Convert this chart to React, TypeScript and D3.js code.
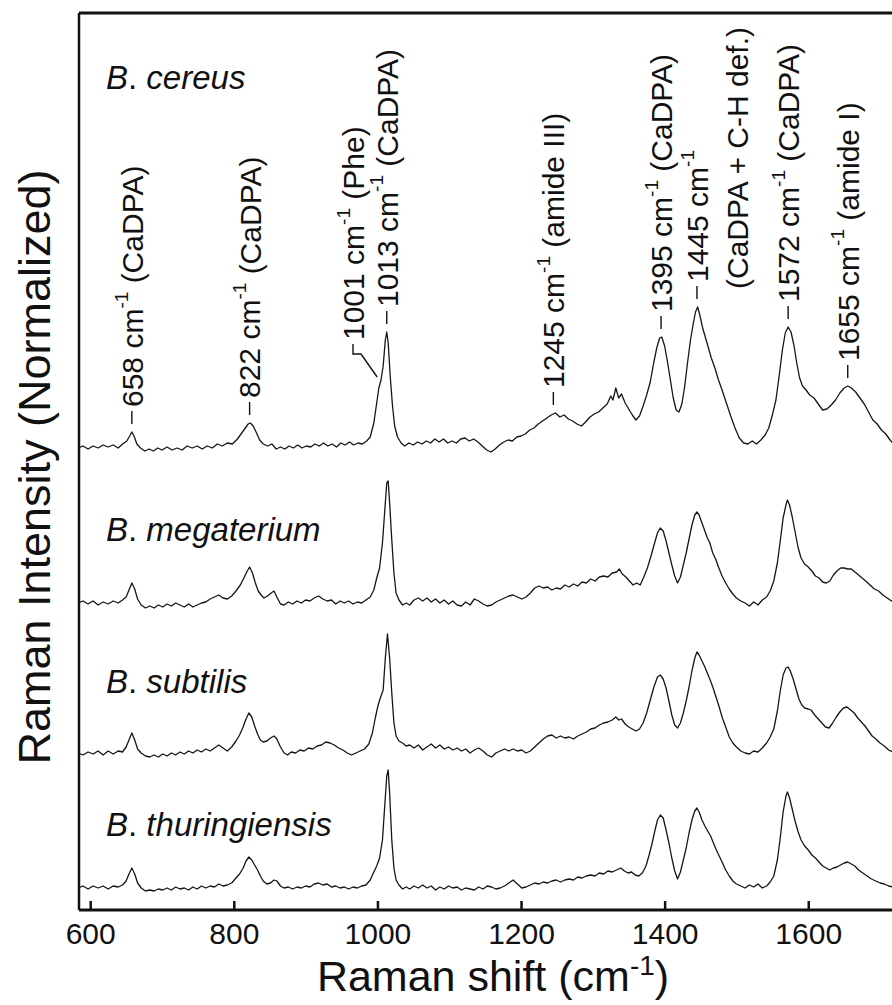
import React, { useEffect, useRef } from "react";
import * as d3 from "d3";

const W = 892;
const H = 1005;

// spectra: [Raman shift (cm-1), intensity above the trace baseline]
const cereus: [number, number][] = [
  [583, 0], [590, 0.02], [597, -0.01], [604, 0.02], [611, 0], [618, 0.03], [625, 0.01], [632, 0.03], [639, 0], [645, 0.04],
  [651, 0.07], [655, 0.12], [658, 0.16], [661, 0.12], [665, 0.04], [670, 0], [676, -0.03], [682, -0.01], [688, -0.03], [694, 0],
  [700, -0.02], [707, 0.01], [714, -0.02], [721, 0], [728, -0.02], [735, 0.02], [742, 0], [749, 0.02], [756, -0.01], [763, 0.02],
  [770, 0], [777, 0.04], [784, 0.02], [791, 0.05], [798, 0.04], [805, 0.09], [811, 0.15], [816, 0.2], [820, 0.24], [823, 0.25],
  [827, 0.22], [831, 0.16], [836, 0.08], [841, 0.04], [847, 0.02], [853, 0.04], [859, -0.01], [865, 0.01], [871, -0.01], [877, 0.02],
  [883, 0], [889, 0.03], [895, 0], [901, 0.02], [907, 0.01], [913, 0.04], [919, 0.02], [925, 0.05], [931, 0.02], [937, 0.04],
  [943, 0.01], [949, 0.05], [955, 0.03], [961, 0.06], [967, 0.03], [973, 0.05], [979, 0.04], [985, 0.07], [990, 0.11], [995, 0.25],
  [999, 0.45], [1002, 0.6], [1005, 0.68], [1008, 0.82], [1011, 1.08], [1013, 1.16], [1015, 1.05], [1018, 0.7], [1021, 0.42], [1024, 0.22],
  [1028, 0.11], [1033, 0.05], [1038, 0.02], [1044, 0.05], [1050, 0.03], [1056, 0.06], [1062, 0.04], [1068, 0.07], [1074, 0.05], [1080, 0.09],
  [1086, 0.06], [1092, 0.09], [1098, 0.05], [1104, 0.07], [1110, 0.05], [1116, 0.09], [1122, 0.1], [1128, 0.07], [1134, 0.09], [1140, 0.06],
  [1146, 0.02], [1152, -0.02], [1158, -0.04], [1164, -0.01], [1170, 0.03], [1176, 0.06], [1182, 0.08], [1188, 0.07], [1194, 0.11], [1200, 0.12],
  [1206, 0.14], [1212, 0.18], [1218, 0.2], [1224, 0.24], [1230, 0.27], [1236, 0.3], [1242, 0.33], [1248, 0.35], [1254, 0.31], [1260, 0.33],
  [1266, 0.29], [1272, 0.27], [1278, 0.24], [1284, 0.22], [1290, 0.26], [1296, 0.31], [1302, 0.34], [1308, 0.36], [1314, 0.4], [1320, 0.44],
  [1325, 0.52], [1328, 0.48], [1332, 0.6], [1336, 0.5], [1340, 0.54], [1345, 0.45], [1350, 0.39], [1355, 0.33], [1360, 0.28], [1365, 0.32],
  [1370, 0.42], [1375, 0.53], [1380, 0.66], [1385, 0.86], [1389, 1.0], [1393, 1.1], [1396, 1.11], [1400, 1.02], [1404, 0.86], [1408, 0.68],
  [1412, 0.5], [1416, 0.38], [1420, 0.36], [1424, 0.44], [1428, 0.62], [1432, 0.86], [1436, 1.08], [1440, 1.25], [1443, 1.36], [1446, 1.41],
  [1449, 1.33], [1453, 1.2], [1457, 1.1], [1461, 1.0], [1465, 0.9], [1470, 0.8], [1475, 0.68], [1480, 0.58], [1486, 0.45], [1492, 0.32],
  [1498, 0.2], [1504, 0.1], [1510, 0.05], [1516, 0.04], [1522, 0.07], [1528, 0.04], [1534, 0.08], [1540, 0.13], [1545, 0.2], [1550, 0.33],
  [1555, 0.48], [1560, 0.75], [1564, 0.98], [1568, 1.15], [1572, 1.21], [1576, 1.16], [1580, 1.03], [1584, 0.85], [1588, 0.7], [1592, 0.62],
  [1597, 0.58], [1602, 0.53], [1608, 0.5], [1614, 0.44], [1620, 0.38], [1626, 0.39], [1632, 0.43], [1638, 0.48], [1644, 0.55], [1650, 0.6],
  [1655, 0.62], [1660, 0.6], [1666, 0.56], [1672, 0.5], [1678, 0.44], [1684, 0.36], [1690, 0.28], [1696, 0.24], [1702, 0.18], [1708, 0.14],
  [1714, 0.08], [1720, 0.03],
];

const megaterium: [number, number][] = [
  [583, 0], [590, 0.02], [597, -0.01], [604, 0.02], [611, -0.02], [618, 0.01], [625, -0.01], [632, 0.02], [639, 0], [645, 0.03],
  [650, 0.06], [654, 0.13], [658, 0.2], [662, 0.14], [666, 0.04], [671, -0.02], [677, -0.05], [683, -0.03], [689, -0.05], [695, -0.02],
  [701, -0.04], [707, -0.01], [713, -0.03], [719, 0], [725, -0.02], [731, -0.04], [737, -0.01], [743, -0.04], [749, -0.02], [755, 0],
  [761, 0.01], [767, 0.04], [773, 0.06], [779, 0.08], [785, 0.05], [791, 0.04], [797, 0.07], [803, 0.12], [809, 0.18], [814, 0.25],
  [818, 0.31], [822, 0.36], [826, 0.3], [830, 0.2], [834, 0.12], [838, 0.08], [842, 0.05], [847, 0.07], [852, 0.1], [856, 0.12],
  [860, 0.06], [865, -0.01], [870, -0.02], [876, 0.01], [882, -0.01], [888, 0.02], [894, 0], [900, 0.03], [906, 0.02], [912, 0.05],
  [918, 0.07], [924, 0.04], [930, 0.02], [936, 0.03], [942, -0.01], [948, 0.02], [954, 0], [960, 0.02], [966, -0.01], [972, 0.01],
  [978, 0], [984, 0.03], [990, 0.06], [995, 0.13], [999, 0.25], [1003, 0.35], [1007, 0.6], [1010, 0.9], [1013, 1.2], [1015, 1.22],
  [1017, 1.0], [1020, 0.63], [1023, 0.3], [1026, 0.1], [1030, 0.03], [1035, -0.02], [1040, 0], [1045, -0.02], [1051, 0.03], [1057, 0.05],
  [1063, 0.02], [1069, 0.05], [1075, 0.01], [1081, 0.04], [1087, 0], [1093, 0.03], [1099, -0.01], [1105, 0.02], [1111, -0.02], [1117, -0.03],
  [1123, 0.01], [1129, -0.02], [1135, 0.04], [1141, 0.02], [1147, -0.01], [1153, -0.03], [1159, -0.02], [1165, 0.01], [1171, 0.03], [1177, 0.05],
  [1183, 0.07], [1189, 0.08], [1195, 0.06], [1201, 0.04], [1207, 0.06], [1213, 0.1], [1219, 0.15], [1225, 0.17], [1231, 0.15], [1237, 0.16],
  [1243, 0.13], [1249, 0.15], [1255, 0.14], [1261, 0.18], [1267, 0.16], [1273, 0.19], [1279, 0.17], [1285, 0.21], [1291, 0.2], [1297, 0.24],
  [1303, 0.22], [1309, 0.26], [1315, 0.27], [1321, 0.26], [1327, 0.3], [1333, 0.31], [1337, 0.34], [1341, 0.29], [1346, 0.26], [1351, 0.22],
  [1356, 0.18], [1361, 0.2], [1366, 0.18], [1371, 0.26], [1376, 0.35], [1381, 0.47], [1386, 0.6], [1390, 0.7], [1394, 0.75], [1398, 0.72],
  [1402, 0.62], [1406, 0.5], [1410, 0.38], [1414, 0.27], [1418, 0.2], [1422, 0.26], [1426, 0.38], [1430, 0.5], [1434, 0.64], [1438, 0.78],
  [1442, 0.88], [1445, 0.91], [1448, 0.88], [1452, 0.8], [1456, 0.72], [1459, 0.66], [1463, 0.6], [1467, 0.5], [1471, 0.44], [1475, 0.36],
  [1480, 0.27], [1485, 0.2], [1490, 0.14], [1495, 0.09], [1500, 0.05], [1506, 0.02], [1512, 0], [1518, -0.03], [1524, 0.01], [1530, -0.02],
  [1536, 0.03], [1542, 0.06], [1547, 0.12], [1552, 0.22], [1557, 0.4], [1561, 0.62], [1565, 0.85], [1569, 0.98], [1571, 1.03], [1574, 0.98],
  [1578, 0.85], [1582, 0.7], [1586, 0.55], [1590, 0.45], [1595, 0.39], [1600, 0.36], [1605, 0.32], [1610, 0.27], [1615, 0.25], [1620, 0.21],
  [1625, 0.2], [1630, 0.22], [1635, 0.28], [1640, 0.32], [1645, 0.35], [1650, 0.35], [1655, 0.34], [1660, 0.34], [1665, 0.31], [1670, 0.28],
  [1675, 0.25], [1680, 0.22], [1686, 0.18], [1692, 0.14], [1698, 0.12], [1704, 0.08], [1710, 0.05], [1716, 0.02], [1722, 0],
];

const subtilis: [number, number][] = [
  [583, 0], [590, -0.02], [597, 0.01], [604, -0.01], [611, 0.02], [618, -0.02], [625, 0.02], [632, -0.01], [639, 0.02], [645, 0.01],
  [650, 0.06], [654, 0.13], [658, 0.2], [662, 0.13], [666, 0.04], [671, 0], [677, -0.03], [683, -0.04], [689, -0.02], [695, -0.04],
  [701, -0.01], [707, -0.03], [713, 0], [719, -0.02], [725, 0.01], [731, -0.01], [737, 0.02], [743, 0], [749, 0.03], [755, 0.01],
  [761, 0.04], [767, 0.02], [773, 0.05], [779, 0.08], [785, 0.05], [791, 0.02], [797, 0.06], [803, 0.12], [808, 0.18], [813, 0.26],
  [817, 0.34], [821, 0.4], [825, 0.36], [829, 0.27], [833, 0.19], [837, 0.13], [841, 0.11], [846, 0.12], [851, 0.15], [856, 0.17],
  [860, 0.14], [865, 0.06], [870, 0], [875, -0.02], [880, 0.01], [886, 0], [892, 0.03], [898, 0.02], [904, 0.05], [910, 0.04],
  [916, 0.07], [922, 0.08], [928, 0.11], [934, 0.1], [940, 0.08], [946, 0.05], [952, 0.03], [958, 0], [964, -0.02], [970, 0],
  [976, 0.02], [982, 0.04], [988, 0.09], [993, 0.2], [997, 0.35], [1001, 0.48], [1004, 0.55], [1008, 0.63], [1011, 0.95], [1014, 1.19],
  [1017, 0.95], [1020, 0.6], [1023, 0.3], [1026, 0.17], [1030, 0.12], [1035, 0.1], [1040, 0.07], [1045, 0.08], [1051, 0.05], [1057, 0.08],
  [1063, 0.03], [1069, 0.06], [1075, 0.09], [1081, 0.05], [1087, 0.08], [1093, 0.04], [1099, 0.06], [1105, 0.03], [1111, 0.05], [1117, 0.02],
  [1123, 0.04], [1129, 0], [1135, 0.03], [1141, 0.05], [1147, 0.02], [1153, -0.02], [1159, -0.04], [1165, 0], [1171, 0.02], [1177, 0.04],
  [1183, 0.02], [1189, 0.04], [1195, 0.02], [1201, 0.03], [1207, 0], [1213, 0.02], [1219, 0.06], [1225, 0.1], [1231, 0.14], [1237, 0.17],
  [1243, 0.18], [1249, 0.15], [1255, 0.17], [1261, 0.15], [1267, 0.16], [1273, 0.14], [1279, 0.17], [1285, 0.19], [1291, 0.21], [1297, 0.24],
  [1303, 0.25], [1309, 0.28], [1315, 0.3], [1321, 0.31], [1327, 0.33], [1332, 0.36], [1336, 0.33], [1340, 0.34], [1345, 0.29], [1350, 0.26],
  [1355, 0.24], [1360, 0.22], [1365, 0.24], [1370, 0.3], [1375, 0.4], [1380, 0.53], [1385, 0.66], [1390, 0.76], [1394, 0.78], [1398, 0.74],
  [1402, 0.65], [1406, 0.52], [1410, 0.38], [1414, 0.28], [1418, 0.25], [1422, 0.3], [1426, 0.4], [1430, 0.52], [1434, 0.66], [1438, 0.82],
  [1442, 0.95], [1445, 1.01], [1448, 0.98], [1452, 0.92], [1456, 0.86], [1460, 0.79], [1464, 0.72], [1468, 0.64], [1472, 0.55], [1476, 0.46],
  [1480, 0.36], [1485, 0.26], [1490, 0.16], [1495, 0.1], [1500, 0.06], [1506, 0.02], [1512, 0], [1518, -0.01], [1524, 0.02], [1530, 0.01],
  [1536, 0.05], [1542, 0.1], [1547, 0.16], [1552, 0.24], [1557, 0.42], [1561, 0.62], [1565, 0.78], [1569, 0.85], [1572, 0.86], [1575, 0.82],
  [1579, 0.74], [1583, 0.64], [1587, 0.54], [1591, 0.48], [1595, 0.45], [1600, 0.44], [1604, 0.43], [1609, 0.38], [1614, 0.34], [1619, 0.3],
  [1624, 0.26], [1629, 0.25], [1634, 0.3], [1639, 0.36], [1644, 0.41], [1649, 0.45], [1654, 0.46], [1659, 0.43], [1664, 0.4], [1669, 0.35],
  [1674, 0.31], [1679, 0.27], [1684, 0.22], [1689, 0.17], [1694, 0.14], [1700, 0.1], [1706, 0.07], [1712, 0.03], [1718, 0.01], [1722, 0],
];

const thuringiensis: [number, number][] = [
  [583, 0], [590, 0.02], [597, -0.01], [604, 0.02], [611, 0], [618, 0.02], [625, -0.01], [632, 0.02], [639, 0.01], [645, 0.03],
  [650, 0.07], [654, 0.14], [658, 0.2], [662, 0.14], [666, 0.05], [671, 0], [677, -0.03], [683, -0.02], [689, -0.03], [695, -0.01],
  [701, -0.02], [707, 0], [713, -0.02], [719, 0.01], [725, -0.01], [731, 0], [737, -0.02], [743, 0.01], [749, -0.01], [755, 0.02],
  [761, 0], [767, 0.02], [773, 0.01], [779, 0.04], [785, 0.02], [791, 0.03], [797, 0.05], [803, 0.1], [808, 0.14], [813, 0.2],
  [817, 0.27], [821, 0.31], [825, 0.28], [829, 0.23], [833, 0.18], [837, 0.12], [841, 0.07], [846, 0.04], [851, 0.05], [856, 0.08],
  [860, 0.07], [865, 0.02], [870, 0], [876, 0.01], [882, -0.01], [888, 0.01], [894, 0], [900, 0.02], [906, 0.01], [912, 0.04],
  [918, 0.05], [924, 0.03], [930, 0.04], [936, 0.01], [942, 0.02], [948, 0], [954, 0.01], [960, -0.01], [966, 0.01], [972, 0],
  [978, 0.02], [984, 0.03], [990, 0.08], [995, 0.16], [999, 0.22], [1003, 0.3], [1007, 0.48], [1010, 0.8], [1013, 1.12], [1015, 1.18],
  [1017, 0.95], [1020, 0.48], [1023, 0.2], [1026, 0.08], [1030, 0.03], [1035, -0.01], [1040, 0.01], [1045, -0.01], [1051, 0.02], [1057, 0],
  [1063, 0.03], [1069, 0], [1075, 0.02], [1081, -0.02], [1087, 0.01], [1093, -0.01], [1099, 0.02], [1105, 0], [1111, 0.01], [1117, -0.02],
  [1123, 0], [1129, -0.01], [1135, -0.02], [1141, 0.01], [1147, -0.01], [1153, 0.02], [1159, 0.01], [1165, -0.01], [1171, 0], [1177, 0.02],
  [1183, 0.05], [1189, 0.08], [1195, 0.04], [1201, 0], [1207, 0.01], [1213, 0.03], [1219, 0.05], [1225, 0.04], [1231, 0.06], [1237, 0.05],
  [1243, 0.07], [1249, 0.08], [1255, 0.06], [1261, 0.08], [1267, 0.09], [1273, 0.08], [1279, 0.11], [1285, 0.1], [1291, 0.12], [1297, 0.13],
  [1303, 0.12], [1309, 0.15], [1315, 0.14], [1321, 0.17], [1327, 0.16], [1333, 0.18], [1339, 0.2], [1344, 0.17], [1349, 0.15], [1354, 0.16],
  [1359, 0.13], [1364, 0.12], [1369, 0.15], [1374, 0.22], [1378, 0.32], [1382, 0.43], [1386, 0.56], [1390, 0.68], [1394, 0.73], [1398, 0.7],
  [1402, 0.58], [1406, 0.45], [1410, 0.3], [1414, 0.17], [1418, 0.09], [1422, 0.16], [1426, 0.28], [1430, 0.4], [1434, 0.55], [1438, 0.68],
  [1442, 0.77], [1445, 0.8], [1448, 0.76], [1452, 0.68], [1456, 0.62], [1460, 0.57], [1464, 0.52], [1468, 0.45], [1472, 0.38], [1476, 0.32],
  [1480, 0.26], [1485, 0.18], [1490, 0.12], [1495, 0.07], [1500, 0.04], [1506, 0.02], [1512, 0], [1518, 0.03], [1524, 0.01], [1530, 0.04],
  [1536, 0], [1542, 0.02], [1547, 0.06], [1552, 0.12], [1557, 0.28], [1561, 0.5], [1565, 0.76], [1569, 0.92], [1571, 0.96], [1574, 0.9],
  [1578, 0.78], [1582, 0.66], [1586, 0.56], [1590, 0.48], [1595, 0.42], [1600, 0.38], [1605, 0.33], [1610, 0.3], [1615, 0.26], [1620, 0.22],
  [1625, 0.2], [1630, 0.18], [1635, 0.2], [1640, 0.21], [1645, 0.23], [1650, 0.25], [1655, 0.26], [1660, 0.24], [1665, 0.22], [1670, 0.18],
  [1676, 0.15], [1682, 0.12], [1688, 0.09], [1694, 0.07], [1700, 0.05], [1706, 0.04], [1712, 0.02], [1718, 0.01], [1722, 0],
];

const speciesNames = ["B. cereus", "B. megaterium", "B. subtilis", "B. thuringiensis"];
const spectra = [cereus, megaterium, subtilis, thuringiensis];
const offsets = [4.62, 3.07, 1.57, 0.22];

const xTicks = [600, 800, 1000, 1200, 1400, 1600];

// band assignments marked on the top spectrum
const bandShifts = [658, 822, 1001, 1013, 1245, 1395, 1445, 1572, 1655];
const bandNotes = ["CaDPA", "CaDPA", "Phe", "CaDPA", "amide III", "CaDPA", "", "CaDPA", "amide I"];
const bandSecondLine = ["", "", "", "", "", "", "(CaDPA + C-H def.)", "", ""];

const FONT = "'Liberation Sans', Arial, Helvetica, sans-serif";

export default function App() {
  const ref = useRef<SVGSVGElement>(null);

  useEffect(() => {
    const svg = d3.select(ref.current);
    svg.selectAll("*").remove();

    const left = 79, top = 13, bottom = 910;
    const x = d3.scaleLinear().domain([583, 1725]).range([78, 898]);
    const y = d3.scaleLinear().domain([0, 8.97]).range([bottom, top]);

    svg.append("defs").append("clipPath").attr("id", "plotclip")
      .append("rect").attr("x", left).attr("y", top).attr("width", W - left).attr("height", bottom - top);

    // spectra
    const line = d3.line<[number, number]>();
    const traces = svg.append("g").attr("clip-path", "url(#plotclip)");
    spectra.forEach((s, i) => {
      line.x(d => x(d[0])).y(d => y(d[1] + offsets[i]));
      traces.append("path")
        .attr("d", line(s))
        .attr("fill", "none")
        .attr("stroke", "#161616")
        .attr("stroke-width", 1.3)
        .attr("stroke-linejoin", "round");
    });

    // frame
    svg.append("line").attr("x1", left).attr("x2", W).attr("y1", top).attr("y2", top)
      .attr("stroke", "#111").attr("stroke-width", 3);
    svg.append("line").attr("x1", left).attr("x2", left).attr("y1", top).attr("y2", bottom)
      .attr("stroke", "#111").attr("stroke-width", 2.5);

    // x axis
    const xAxis = svg.append("g").attr("transform", `translate(0,${bottom})`)
      .call(d3.axisBottom(x).tickValues(xTicks).tickSizeInner(-9).tickSizeOuter(0).tickPadding(8).tickFormat(d3.format("d")));
    xAxis.select(".domain").attr("stroke", "#111").attr("stroke-width", 3)
      .attr("d", `M${left},0H${W}`);
    xAxis.selectAll(".tick line").attr("stroke", "#111").attr("stroke-width", 2.5);
    xAxis.selectAll(".tick text")
      .attr("font-family", FONT).attr("font-size", 30).attr("fill", "#111")
      .attr("dy", "0.71em").attr("y", 13);

    // axis titles
    const xt = svg.append("text").attr("x", 493).attr("y", 991)
      .attr("text-anchor", "middle").attr("font-family", FONT).attr("font-size", 43).attr("fill", "#111");
    xt.append("tspan").text("Raman shift (cm");
    xt.append("tspan").attr("font-size", 28).attr("dy", -16).text("-1");
    xt.append("tspan").attr("dy", 16).text(")");

    svg.append("text")
      .attr("transform", `translate(50,467) rotate(-90)`)
      .attr("text-anchor", "middle").attr("font-family", FONT).attr("font-size", 45).attr("fill", "#111")
      .text("Raman Intensity (Normalized)");

    // species names
    const nameY = [89, 541, 693, 836];
    speciesNames.forEach((n, i) => {
      const t = svg.append("text").attr("x", 106).attr("y", nameY[i])
        .attr("font-family", FONT).attr("font-size", 33).attr("fill", "#111");
      const [genus, rest] = n.split(". ");
      t.append("tspan").attr("font-style", "italic").text(genus);
      t.append("tspan").text(". ");
      t.append("tspan").attr("font-style", "italic").text(rest);
    });

    // band labels on the top trace
    const peakValue = (shift: number) =>
      d3.max(cereus.filter(d => Math.abs(d[0] - shift) <= 5), d => d[1]) ?? 0;
    const ann = svg.append("g").attr("font-family", FONT).attr("font-size", 30).attr("fill", "#111");
    const labelText = (g: any, cx: number, y0: number, shift: number, note: string) => {
      const t = g.append("text")
        .attr("transform", `translate(${cx},${y0}) rotate(-90)`)
        .attr("dy", "0.36em");
      t.append("tspan").text(`${shift} cm`);
      t.append("tspan").attr("font-size", 19).attr("dy", "-0.75em").text("-1");
      t.append("tspan").attr("dy", "0.48em").text(note ? ` (${note})` : "");
    };
    bandShifts.forEach((s, i) => {
      const px = x(s);
      const py = y(peakValue(s) + offsets[0]);
      if (s === 1001) {
        const lx = x(966);
        ann.append("path")
          .attr("d", `M${px - 1},${py - 3}L${lx + 8},${py - 26}L${lx},${py - 26}L${lx},${py - 36}`)
          .attr("fill", "none").attr("stroke", "#111").attr("stroke-width", 1.4);
        labelText(ann, lx, py - 40, s, bandNotes[i]);
        return;
      }
      ann.append("line").attr("x1", px).attr("x2", px).attr("y1", py - 8).attr("y2", py - 21)
        .attr("stroke", "#111").attr("stroke-width", 1.4);
      labelText(ann, px, py - 25, s, bandNotes[i]);
      if (bandSecondLine[i]) {
        ann.append("text")
          .attr("transform", `translate(${px + 40},${py - 18}) rotate(-90)`)
          .attr("dy", "0.36em")
          .text(bandSecondLine[i]);
      }
    });
  }, []);

  return (
    <div>
      <style>{`body{margin:0;background:#fff}`}</style>
      <svg ref={ref} width={W} height={H} style={{ display: "block" }} />
    </div>
  );
}
